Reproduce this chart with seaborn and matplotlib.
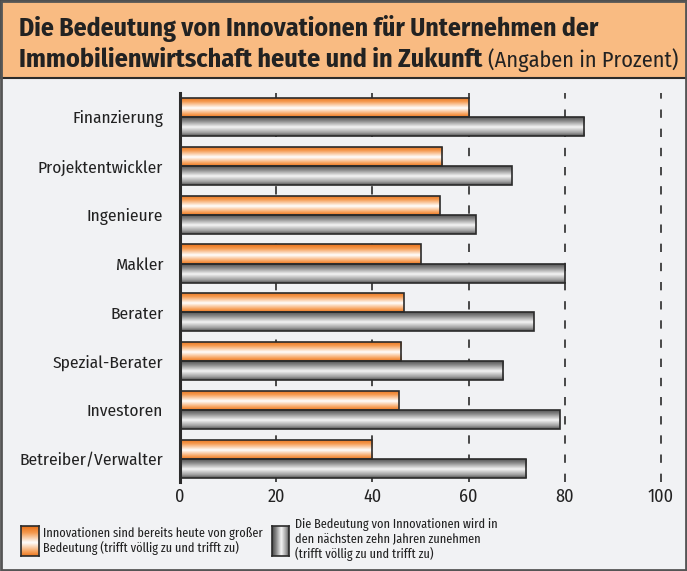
import numpy as np
import pandas as pd
import matplotlib
matplotlib.use("Agg")
from matplotlib import pyplot as plt
from matplotlib.colors import LinearSegmentedColormap
from matplotlib.patches import Rectangle
import seaborn as sns

kategorien = ["Finanzierung", "Projektentwickler", "Ingenieure", "Makler",
              "Berater", "Spezial-Berater", "Investoren", "Betreiber/Verwalter"]
heute = [60, 54.5, 54, 50, 46.5, 46, 45.5, 40]
zukunft = [84, 69, 61.5, 80, 73.5, 67.2, 79, 72]
x_ticks = [0, 20, 40, 60, 80, 100]

serie_heute = "Innovationen sind bereits heute von großer\nBedeutung (trifft völlig zu und trifft zu)"
serie_zukunft = "Die Bedeutung von Innovationen wird in\nden nächsten zehn Jahren zunehmen\n(trifft völlig zu und trifft zu)"

df = pd.DataFrame({
    "kategorie": kategorien * 2,
    "wert": heute + zukunft,
    "serie": ["heute"] * len(kategorien) + ["zukunft"] * len(kategorien),
})

sns.set_style("white")
plt.rcParams['font.family'] = ['Fira Sans Condensed', 'Fira Sans Extra Condensed', 'DejaVu Sans']
legend_font = ['Fira Sans Extra Condensed', 'Fira Sans Condensed', 'DejaVu Sans']

bg = "#f1f2f4"
dark = "#2b2b2b"

orange_cmap = LinearSegmentedColormap.from_list(
    "orange", [(0, "#e86f17"), (0.22, "#f59a4f"), (0.55, "#ffffff"), (0.85, "#f7a35e"), (1, "#ec7820")])
gray_cmap = LinearSegmentedColormap.from_list(
    "gray", [(0, "#464646"), (0.25, "#8c8c8c"), (0.55, "#f5f5f5"), (0.85, "#9c9c9c"), (1, "#555555")])

W, H = 687, 571
fig = plt.figure(figsize=(W / 100, H / 100), dpi=100, facecolor=bg)

# title box
fig.patches.append(Rectangle((0, 1 - 78 / H), 1, 78 / H, transform=fig.transFigure,
                             facecolor="#f9bb82", edgecolor=dark, linewidth=1.5, zorder=0))
fig.patches.append(Rectangle((0.001, 0.001), 0.998, 0.998, transform=fig.transFigure,
                             facecolor="none", edgecolor="#555555", linewidth=2, zorder=5))
fig.text(19 / W, 1 - 28 / H, "Die Bedeutung von Innovationen für Unternehmen der",
         fontsize=18.5, fontweight="bold", color="#222222", va="center", ha="left")
t2 = fig.text(19 / W, 1 - 60 / H, "Immobilienwirtschaft heute und in Zukunft ",
              fontsize=18.8, fontweight="bold", color="#222222", va="center", ha="left")
fig.canvas.draw()
bb = t2.get_window_extent()
fig.text(bb.x1 / W, 1 - 60 / H, "(Angaben in Prozent)", fontsize=16, color="#222222",
         va="center", ha="left")

# main axes
ax_left, ax_right = 180 / W, (180 + 4.81 * 104) / W
ax_top, ax_bot = 93 / H, 482 / H
ax = fig.add_axes([ax_left, 1 - ax_bot, ax_right - ax_left, ax_bot - ax_top])
ax.set_facecolor("none")

sns.barplot(data=df, y="kategorie", x="wert", hue="serie", orient="h", width=0.78,
            palette=["#f08a30", "#888888"], legend=False, ax=ax, zorder=3,
            edgecolor=dark, linewidth=1.2)

for container, cmap in zip(ax.containers, [orange_cmap, gray_cmap]):
    for bar in container:
        x0, y0 = bar.get_x(), bar.get_y()
        w, h = bar.get_width(), bar.get_height()
        grad = np.linspace(0, 1, 60).reshape(-1, 1)
        im = ax.imshow(grad, cmap=cmap, extent=(x0, x0 + w, y0 + h, y0),
                       aspect="auto", origin="upper", zorder=2.5, interpolation="bilinear")
        im.set_clip_path(bar)
        bar.set_facecolor("none")

ax.set_xlim(0, 104)
ax.set_ylim(7.47, -0.49)
for v in x_ticks[1:]:
    ax.axvline(v, color=dark, linewidth=1.2, linestyle=(0, (5, 6.5)), zorder=1)

ax.set_xticks(x_ticks)
ax.set_xticklabels([str(v) for v in x_ticks], fontsize=13, color="#222222")
ax.tick_params(axis="x", length=0, pad=4)
ax.tick_params(axis="y", length=0, pad=12, labelsize=12.5, labelcolor="#222222")
ax.set_xlabel("")
ax.set_ylabel("")
for s in ["top", "right", "bottom"]:
    ax.spines[s].set_visible(False)
ax.spines["left"].set_linewidth(2.2)
ax.spines["left"].set_color(dark)
ax.spines["left"].set_zorder(4)

# legend swatches
def swatch(x, y, w, h, cmap, horizontal):
    sax = fig.add_axes([x / W, 1 - (y + h) / H, w / W, h / H])
    g = np.linspace(0, 1, 60)
    g = g.reshape(1, -1) if horizontal else g.reshape(-1, 1)
    sax.imshow(g, cmap=cmap, aspect="auto", interpolation="bilinear")
    sax.set_xticks([])
    sax.set_yticks([])
    for sp in sax.spines.values():
        sp.set_color(dark)
        sp.set_linewidth(1.2)

swatch(21, 526, 18, 30, orange_cmap, False)
swatch(272, 526, 17, 30, gray_cmap, True)
fig.text(43 / W, 1 - 541 / H, serie_heute, fontsize=9.6, color="#222222", family=legend_font,
         va="center", ha="left", linespacing=1.15)
fig.text(295 / W, 1 - 539.5 / H, serie_zukunft, fontsize=9.6, color="#222222", family=legend_font,
         va="center", ha="left", linespacing=1.15)

fig.savefig("out.png", dpi=100, facecolor=bg)
